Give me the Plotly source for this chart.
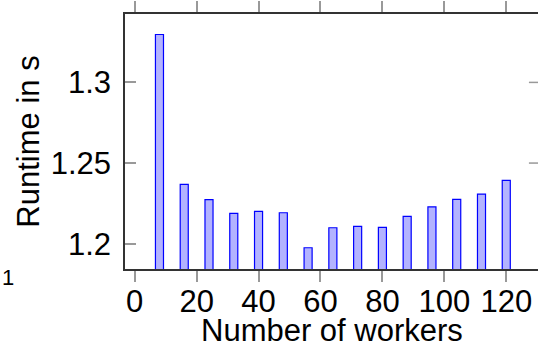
import plotly.graph_objects as go

workers = [8, 16, 24, 32, 40, 48, 56, 64, 72, 80, 88, 96, 104, 112, 120]
runtime = [1.3297, 1.2368, 1.2273, 1.2188, 1.2201, 1.2192, 1.1975, 1.2099,
           1.2108, 1.2102, 1.2170, 1.2229, 1.2275, 1.2308, 1.2393]
x_ticks = [0, 20, 40, 60, 80, 100, 120]
y_ticks = [1.2, 1.25, 1.3]
y_tick_text = ["1.2", "1.25", "1.3"]

FONT = "Liberation Sans, Arial, Helvetica, sans-serif"
FS = 31

fig = go.Figure()
fig.add_trace(go.Bar(
    x=workers, y=runtime, width=2.6,
    marker=dict(color="rgb(179,179,255)", line=dict(color="rgb(0,0,255)", width=1.2)),
))

YMIN, YMAX = 1.18434, 1.3424

fig.update_layout(
    width=538, height=348,
    margin=dict(l=125, r=0, t=14, b=79, autoexpand=False),
    paper_bgcolor="white", plot_bgcolor="white",
    showlegend=False,
    font=dict(family=FONT, size=FS, color="black"),
    xaxis=dict(
        range=[-3.13, 130.25], tickvals=x_ticks, ticktext=[str(v) for v in x_ticks],
        ticks="outside", ticklen=11, tickcolor="#999999", tickwidth=1.5,
        showline=True, linecolor="#333333", linewidth=1.5, mirror="ticks",
        showgrid=False, zeroline=False, automargin=False,
        tickfont=dict(size=FS), ticklabelstandoff=-7,
    ),
    yaxis=dict(
        range=[YMIN, YMAX], tickvals=y_ticks, ticktext=y_tick_text,
        ticks="inside", ticklen=11, tickcolor="#999999", tickwidth=1.5,
        showline=True, linecolor="#333333", linewidth=1.5,
        showgrid=False, zeroline=False, automargin=False,
        tickfont=dict(size=FS), ticklabelstandoff=6,
        title=dict(text="Runtime in s", font=dict(size=FS), standoff=2),
    ),
)

# x-axis title
fig.add_annotation(text="Number of workers", xref="paper", yref="paper", x=0.5, y=-0.318,
                   xanchor="center", yanchor="bottom", showarrow=False,
                   font=dict(size=FS, family=FONT, color="black"))

# right-side inward tick marks (axis box continues beyond the visible area)
for v in y_ticks[1:]:
    fig.add_shape(type="line", xref="paper", yref="y", x0=0.978, x1=1.0, y0=v, y1=v,
                  line=dict(color="#999999", width=1.5))

fig.add_annotation(text="1", xref="paper", yref="paper", x=-0.3027, y=-0.035,
                   xanchor="left", yanchor="middle", showarrow=False,
                   font=dict(size=22, family=FONT, color="black"))

fig.write_html("out.html", config={"displayModeBar": False},
               post_script="document.body.style.margin='0';document.body.style.overflow='hidden';")
